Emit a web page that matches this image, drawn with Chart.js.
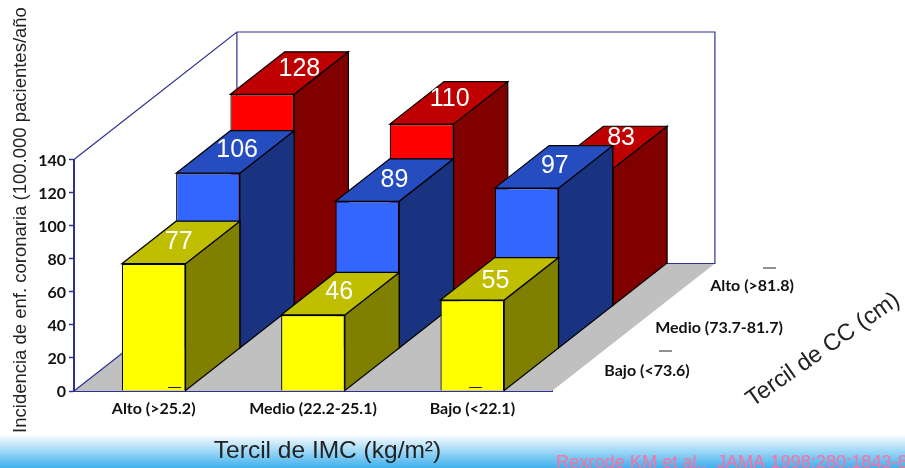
<!DOCTYPE html>
<html>
<head>
<meta charset="utf-8">
<title>Incidencia de enf. coronaria</title>
<script src="https://cdn.jsdelivr.net/npm/chart.js@4"></script>
<style>
    html, body { margin: 0; padding: 0; background: #fff; overflow: hidden; }
    #band { position: absolute; left: 0; right: 0; top: 434px; height: 34px;
            background: linear-gradient(#ffffff, #3fb0ee); }
    #chart { position: absolute; left: 0; top: 0; }
</style>
</head>
<body>
<div id="band"></div>
<canvas id="chart" width="905" height="468"></canvas>
<script>
// Categories and values
const imcLabels = ['Alto (>25.2)', 'Medio (22.2-25.1)', 'Bajo (<22.1)'];
const ccLabels = ['Bajo (<73.6)', 'Medio (73.7-81.7)', 'Alto (>81.8)'];
const ccBajo = [77, 46, 55];
const ccMedio = [106, 89, 97];
const ccAlto = [128, 110, 83];

const NAVY = '#2e3192';
const LABEL_FONT = 'Lato, sans-serif';
const TITLE_FONT = '"Liberation Sans", Arial, sans-serif';

// One depth row of the 3D box, in pixels
const stepX = 54.3;
const stepY = 42.5;

// Colours of each row: front, top, side
const faces = [
    { front: '#ffff00', top: '#bfbf00', side: '#808000' },
    { front: '#3366ff', top: '#264dbf', side: '#1a3380' },
    { front: '#ff0000', top: '#bf0000', side: '#800000' }
];

// Small shift of the value text on the top face, [dataset][category]
const valueShift = [
    [[-2, 0], [-1, -2], [-4, 2]],
    [[2, -2], [0, 0], [1, -1]],
    [[10, -4], [1, -4], [13, -9]]
];

function poly(ctx, pts, fill) {
    ctx.beginPath();
    pts.forEach((p, i) => i ? ctx.lineTo(p[0], p[1]) : ctx.moveTo(p[0], p[1]));
    ctx.closePath();
    ctx.fillStyle = fill;
    ctx.fill();
    ctx.stroke();
}

function text(ctx, str, x, y, font, color, angle) {
    ctx.save();
    ctx.translate(x, y);
    ctx.rotate(angle || 0);
    ctx.font = font;
    ctx.fillStyle = color;
    ctx.textAlign = 'center';
    ctx.textBaseline = 'middle';
    ctx.fillText(str, 0, 0);
    ctx.restore();
}

function dash(ctx, x, y) {
    ctx.strokeStyle = '#222';
    ctx.lineWidth = 1;
    ctx.beginPath();
    ctx.moveTo(x, y);
    ctx.lineTo(x + 13, y);
    ctx.stroke();
}

// Floor and back walls behind the bars
const boxPlugin = {
    id: 'box',
    beforeDatasetsDraw(chart) {
        const { ctx, chartArea: a, scales: { y } } = chart;
        const depthX = stepX * 3;
        const depthY = stepY * 3;
        const top = y.getPixelForValue(140);
        const base = y.getPixelForValue(0);
        ctx.save();
        ctx.beginPath();
        ctx.moveTo(a.left, base);
        ctx.lineTo(a.right, base);
        ctx.lineTo(a.right + depthX, base - depthY);
        ctx.lineTo(a.left + depthX, base - depthY);
        ctx.closePath();
        ctx.fillStyle = '#c0c0c0';
        ctx.fill();

        ctx.strokeStyle = NAVY;
        ctx.lineWidth = 1.2;
        ctx.beginPath();
        ctx.moveTo(a.left, base);
        ctx.lineTo(a.left + depthX, base - depthY);
        ctx.moveTo(a.left, top);
        ctx.lineTo(a.left + depthX, top - depthY);
        ctx.lineTo(a.right + depthX, top - depthY);
        ctx.lineTo(a.right + depthX, base - depthY);
        ctx.lineTo(a.left + depthX, base - depthY);
        ctx.moveTo(a.left + depthX, top - depthY);
        ctx.lineTo(a.left + depthX, base - depthY);
        ctx.stroke();
        ctx.restore();
    },
    // Push each series back to its row and draw the top and side faces;
    // the bar element then paints the front face
    beforeDatasetDraw(chart, args) {
        const { ctx } = chart;
        const row = args.index;
        const shade = faces[row];
        ctx.save();
        ctx.translate(stepX * row, -stepY * row);
        ctx.strokeStyle = '#000';
        ctx.lineWidth = 1.2;
        args.meta.data.forEach(bar => {
            const { x, y, base, width } = bar.getProps(['x', 'y', 'base', 'width'], true);
            const l = x - width / 2;
            const r = x + width / 2;
            poly(ctx, [[r, y], [r + stepX, y - stepY], [r + stepX, base - stepY], [r, base]], shade.side);
            poly(ctx, [[l, y], [l + stepX, y - stepY], [r + stepX, y - stepY], [r, y]], shade.top);
        });
    },
    afterDatasetDraw(chart) {
        chart.ctx.restore();
    },
    afterDatasetsDraw(chart) {
        const { ctx } = chart;
        // value text on the top faces
        chart.data.datasets.forEach((ds, row) => {
            chart.getDatasetMeta(row).data.forEach((bar, i) => {
                const px = bar.x + stepX * row + stepX / 2 + valueShift[row][i][0];
                const py = bar.y - stepY * row - stepY / 2 + valueShift[row][i][1];
                text(ctx, String(ds.data[i]), px, py, '25px ' + TITLE_FONT, '#fff');
            });
        });

        // depth labels along the right edge of the floor
        const labelFont = 'bold 16px ' + LABEL_FONT;
        text(ctx, ccLabels[0], 647, 371, labelFont, '#111');
        text(ctx, ccLabels[1], 719, 328, labelFont, '#111');
        text(ctx, ccLabels[2], 752, 286, labelFont, '#111');

        // axis titles
        text(ctx, 'Tercil de IMC (kg/m²)', 327.5, 451, '24.5px ' + TITLE_FONT, '#222');
        text(ctx, 'Tercil de CC (cm)', 823, 350, '23.5px ' + TITLE_FONT, '#222', -35 * Math.PI / 180);
        text(ctx, 'Incidencia de enf. coronaria (100.000 pacientes/año', 21, 220, '18.5px ' + TITLE_FONT, '#222', -Math.PI / 2);

        // stray rule marks on the slide
        dash(ctx, 168, 387.5);
        dash(ctx, 469, 387.5);
        dash(ctx, 659, 351);
        dash(ctx, 763, 268);

        // citation, runs off the slide at the right
        ctx.save();
        ctx.font = '18.2px ' + TITLE_FONT;
        ctx.fillStyle = '#ff6f9f';
        ctx.textAlign = 'left';
        ctx.textBaseline = 'alphabetic';
        ctx.fillText('Rexrode KM et al.,  JAMA 1998:280:1843-8', 556, 468);
        ctx.restore();
    }
};

const rows = [ccBajo, ccMedio, ccAlto];

new Chart(document.getElementById('chart'), {
    type: 'bar',
    data: {
        labels: imcLabels,
        datasets: rows.map((values, row) => ({
            label: ccLabels[row],
            data: values,
            backgroundColor: faces[row].front,
            borderColor: '#000',
            borderWidth: 1.2,
            grouped: false,
            clip: false,
            categoryPercentage: 1,
            barPercentage: 0.4
        }))
    },
    options: {
        responsive: false,
        animation: false,
        layout: { padding: { left: 0, right: 353, top: 159.5, bottom: 47 } },
        plugins: { legend: { display: false }, tooltip: { enabled: false } },
        scales: {
            x: {
                afterFit: s => { s.height = 30; },
                grid: { display: false },
                ticks: {
                    autoSkip: false,
                    maxRotation: 0,
                    padding: 0,
                    color: '#111',
                    font: { family: 'Lato', size: 16, weight: 'bold' }
                },
                border: { color: NAVY, width: 2 }
            },
            y: {
                min: 0,
                max: 140,
                afterFit: s => { s.width = 74; },
                ticks: {
                    stepSize: 20,
                    padding: 3,
                    labelOffset: 1,
                    color: '#111',
                    font: { family: 'Lato', size: 16, weight: 'bold' }
                },
                grid: { drawOnChartArea: false, tickLength: 5, tickColor: NAVY, tickWidth: 1.5 },
                border: { color: NAVY, width: 2 }
            }
        }
    },
    plugins: [boxPlugin]
});
</script>
</body>
</html>
